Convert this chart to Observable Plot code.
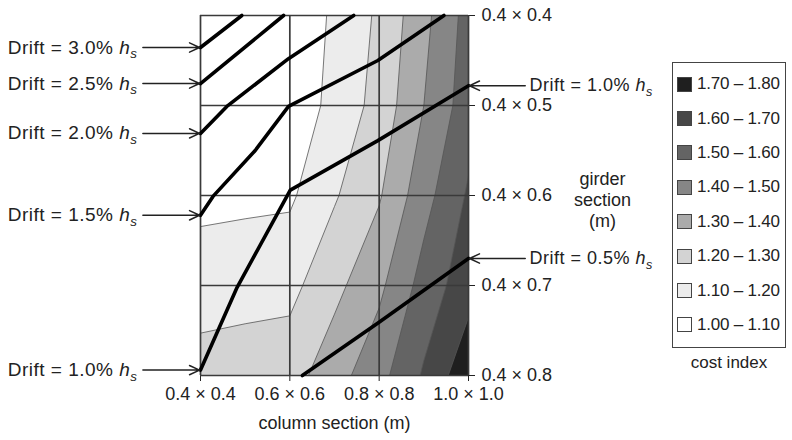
<!DOCTYPE html>
<html>
<head>
<meta charset="utf-8">
<script src="https://cdn.jsdelivr.net/npm/d3@7"></script>
<script src="https://cdn.jsdelivr.net/npm/@observablehq/plot@0.6"></script>
<style>
  html, body { margin: 0; padding: 0; background: #fff; }
  #wrap { position: relative; width: 792px; height: 440px; font-family: "Liberation Sans", Arial, sans-serif; color: #222; }
  #legend { position: absolute; left: 672px; top: 62px; width: 114px; height: 286px; border: 1.5px solid #444; box-sizing: border-box; padding-top: 4px; }
  .row { height: 34.4px; display: flex; align-items: center; }
  .sw { width: 15px; height: 15px; border: 1.3px solid #444; margin-left: 4px; margin-right: 5px; box-sizing: border-box; }
  .lab { font-size: 17px; letter-spacing: -0.2px; white-space: nowrap; }
  #legendTitle { position: absolute; left: 672px; width: 114px; top: 353px; text-align: center; font-size: 17px; }
</style>
</head>
<body>
<div id="wrap"></div>
<script>
// ---- axis ticks ----
const columnTicks = [0.4, 0.6, 0.8, 1.0];
const columnTickLabels = ["0.4 × 0.4", "0.6 × 0.6", "0.8 × 0.8", "1.0 × 1.0"];
const girderTicks = [0.4, 0.5, 0.6, 0.7, 0.8];
const girderTickLabels = ["0.4 × 0.4", "0.4 × 0.5", "0.4 × 0.6", "0.4 × 0.7", "0.4 × 0.8"];

// ---- cost index grid (columns 0.4..1.0 step 0.1, girders 0.4..0.8 step 0.1) ----
const gridColumns = [0.4, 0.5, 0.6, 0.7, 0.8, 0.9, 1.0];
const gridGirders = [0.4, 0.5, 0.6, 0.7, 0.8];
const costRow04 = [1.000, 1.010, 1.030, 1.115, 1.217, 1.371, 1.538];
const costRow05 = [1.010, 1.020, 1.035, 1.129, 1.236, 1.400, 1.554];
const costRow06 = [1.071, 1.078, 1.084, 1.190, 1.290, 1.463, 1.613];
const costRow07 = [1.155, 1.163, 1.171, 1.272, 1.378, 1.539, 1.660];
const costRow08 = [1.240, 1.250, 1.257, 1.360, 1.466, 1.612, 1.773];

// ---- legend classes ----
const costBreaks = [1.0, 1.1, 1.2, 1.3, 1.4, 1.5, 1.6, 1.7];
const costLabels = ["1.00 – 1.10", "1.10 – 1.20", "1.20 – 1.30", "1.30 – 1.40",
                    "1.40 – 1.50", "1.50 – 1.60", "1.60 – 1.70", "1.70 – 1.80"];
const costShades = ["#ffffff", "#ececec", "#d3d3d3", "#ababab", "#868686", "#646464", "#474747", "#1f1f1f"];

// ---- drift lines [column, girder] ----
const drift30 = [[0.400, 0.4356], [0.4926, 0.400]];
const drift25 = [[0.400, 0.4756], [0.586, 0.400]];
const drift20 = [[0.400, 0.531], [0.459, 0.501], [0.597, 0.448], [0.743, 0.400]];
const drift15 = [[0.400, 0.622], [0.428, 0.601], [0.5225, 0.550], [0.597, 0.501], [0.797, 0.450], [0.945, 0.400]];
const drift10 = [[0.400, 0.794], [0.482, 0.702], [0.601, 0.594], [0.797, 0.539], [1.000, 0.478]];
const drift05 = [[0.628, 0.800], [0.799, 0.741], [1.000, 0.670]];

const leftLabelled = [["3.0", drift30], ["2.5", drift25], ["2.0", drift20], ["1.5", drift15], ["1.0", drift10]];
const rightLabelled = [["1.0", drift10], ["0.5", drift05]];

// layout constants (in data units of the column axis)
const leftArrowFrom = 0.271;
const rightArrowFrom = 1.127;

// ---- build tables ----
const costValues = [costRow04, costRow05, costRow06, costRow07, costRow08].flat();
const driftTable = [["3.0", drift30], ["2.5", drift25], ["2.0", drift20], ["1.5", drift15], ["1.0", drift10], ["0.5", drift05]]
  .flatMap(([lvl, pts]) => pts.map(([x, y]) => ({drift: lvl, x, y})));
const leftTable = leftLabelled.map(([lvl, pts]) => ({label: `Drift = ${lvl}% h_s`, x: pts[0][0], y: pts[0][1]}));
const rightTable = rightLabelled.map(([lvl, pts]) => ({label: `Drift = ${lvl}% h_s`, x: pts[pts.length - 1][0], y: pts[pts.length - 1][1]}));

const dx = (gridColumns[1] - gridColumns[0]) / 2;
const dy = (gridGirders[1] - gridGirders[0]) / 2;

const chart = Plot.plot({
  width: 792,
  height: 440,
  marginLeft: 200,
  marginRight: 324,
  marginTop: 15,
  marginBottom: 65,
  style: {fontFamily: "'Liberation Sans', Arial, sans-serif", fontSize: "18px", color: "#222", background: "transparent", overflow: "visible"},
  x: {domain: [0.4, 1.0], ticks: columnTicks, tickFormat: d => columnTickLabels[columnTicks.indexOf(d)], tickSize: 6, tickPadding: 6, label: null},
  y: {domain: [0.4, 0.8], reverse: true, axis: "right", ticks: girderTicks, tickFormat: d => girderTickLabels[girderTicks.indexOf(d)], tickSize: 6, tickPadding: 7, label: null},
  color: {type: "ordinal", domain: costBreaks, range: costShades},
  marks: [
    Plot.contour(costValues, {
      width: gridColumns.length, height: gridGirders.length,
      x1: gridColumns[0] - dx, x2: gridColumns[gridColumns.length - 1] + dx,
      y1: gridGirders[0] - dy, y2: gridGirders[gridGirders.length - 1] + dy,
      thresholds: costBreaks, fill: Plot.identity, stroke: "#555", strokeWidth: 0.8, clip: true
    }),
    Plot.ruleX(columnTicks, {stroke: "#3a3a3a", strokeWidth: 1.7}),
    Plot.ruleY(girderTicks, {stroke: "#3a3a3a", strokeWidth: 1.7}),
    Plot.line(driftTable, {x: "x", y: "y", z: "drift", stroke: "#000", strokeWidth: 3.6, strokeLinejoin: "round"}),
    Plot.arrow(leftTable, {x1: () => leftArrowFrom, y1: "y", x2: "x", y2: "y", stroke: "#222", strokeWidth: 1.5, headLength: 11, headAngle: 50, insetEnd: 1}),
    Plot.text(leftTable, {x: "x", y: "y", text: "label", textAnchor: "end", dx: -63, fill: "#222", fontSize: 19, className: "drift-label"}),
    Plot.arrow(rightTable, {x1: () => rightArrowFrom, y1: "y", x2: "x", y2: "y", stroke: "#222", strokeWidth: 1.5, headLength: 11, headAngle: 50, insetEnd: 1}),
    Plot.text(rightTable, {x: "x", y: "y", text: "label", textAnchor: "start", dx: 61, fill: "#222", fontSize: 18, className: "drift-label"}),
    Plot.text(["column section (m)"], {frameAnchor: "bottom", dy: 53, fill: "#222"}),
    Plot.text(["girder\nsection\n(m)"], {frameAnchor: "right", textAnchor: "middle", dx: 134, dy: 4, lineHeight: 1.15, fill: "#222"})
  ]
});

// italic h with subscript s
chart.querySelectorAll("text").forEach(t => {
  const s = t.textContent;
  if (s.endsWith("h_s")) {
    t.textContent = s.slice(0, -3);
    t.setAttribute("letter-spacing", "0.5");
    const ns = "http://www.w3.org/2000/svg";
    const h = document.createElementNS(ns, "tspan");
    h.setAttribute("font-style", "italic");
    h.textContent = "h";
    const sub = document.createElementNS(ns, "tspan");
    sub.setAttribute("font-style", "italic");
    sub.setAttribute("font-size", "0.7em");
    sub.setAttribute("dy", "0.35em");
    sub.textContent = "s";
    t.appendChild(h);
    t.appendChild(sub);
  }
});

const wrap = document.getElementById("wrap");
wrap.appendChild(chart);

// legend (top = highest class)
const legend = document.createElement("div");
legend.id = "legend";
for (let i = costBreaks.length - 1; i >= 0; --i) {
  const row = document.createElement("div");
  row.className = "row";
  const sw = document.createElement("div");
  sw.className = "sw";
  sw.style.background = chart.scale("color").apply(costBreaks[i]);
  const lab = document.createElement("span");
  lab.className = "lab";
  lab.textContent = costLabels[i];
  row.appendChild(sw);
  row.appendChild(lab);
  legend.appendChild(row);
}
wrap.appendChild(legend);
const lt = document.createElement("div");
lt.id = "legendTitle";
lt.textContent = "cost index";
wrap.appendChild(lt);
</script>
</body>
</html>
